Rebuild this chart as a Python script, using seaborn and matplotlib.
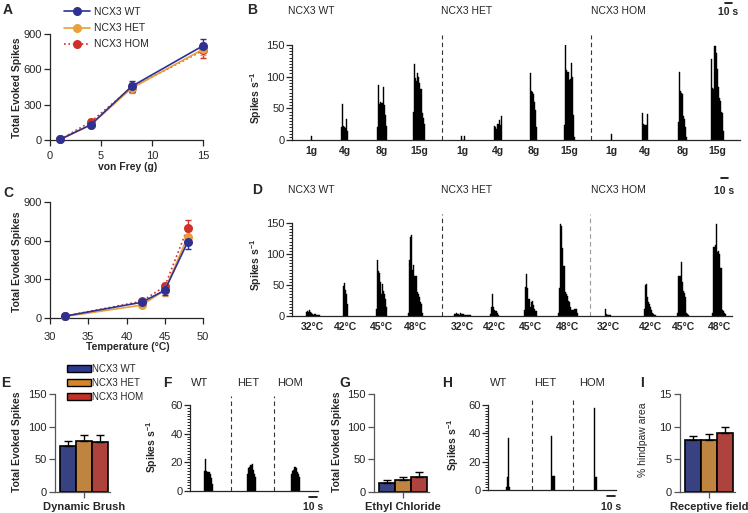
import numpy as np
import pandas as pd
import seaborn as sns
import matplotlib.pyplot as plt
from matplotlib.patches import Patch
from matplotlib.lines import Line2D
from matplotlib.ticker import MultipleLocator

genotypes = ['NCX3 WT', 'NCX3 HET', 'NCX3 HOM']
short_names = ['WT', 'HET', 'HOM']
line_colors = ['#2e3192', '#e8a03a', '#cf3129']
bar_colors = ['#2b3990', '#d4862b', '#c1312a']

# A - von Frey, total evoked spikes (mean, sem)
vf_force = [1, 4, 8, 15]
vf_wt = [5, 130, 455, 800]
vf_het = [5, 128, 440, 770]
vf_hom = [5, 155, 445, 760]
vf_wt_sem = [3, 15, 45, 55]
vf_het_sem = [3, 15, 40, 45]
vf_hom_sem = [3, 20, 35, 60]

# C - heat
heat_temp = [32, 42, 45, 48]
heat_wt = [15, 122, 215, 590]
heat_het = [12, 100, 215, 630]
heat_hom = [15, 130, 245, 700]
heat_wt_sem = [5, 12, 40, 55]
heat_het_sem = [4, 12, 45, 45]
heat_hom_sem = [5, 15, 30, 60]

BIN = 1.5  # s per histogram bin

# B - example traces, von Frey (onset in s, spikes/s per bin)
mech_labels = ['1g', '4g', '8g', '15g'] * 3
mech_onsets = [27, 70, 121, 173, 241, 289, 340, 389, 456, 500, 551, 599]
mech_bursts = [
    [7],
    [20, 57, 22, 21, 19, 33, 14],
    [20, 87, 57, 60, 58, 58, 83, 56, 40, 22],
    [45, 120, 98, 93, 106, 100, 90, 80, 42, 35, 25],
    [7, 0, 0, 6],
    [22, 20, 18, 25, 32, 23, 38],
    [105, 78, 76, 73, 60, 48, 20],
    [23, 151, 110, 108, 95, 97, 122, 100, 40, 5],
    [9],
    [42, 25, 24, 23, 23, 41],
    [28, 108, 77, 75, 73, 38, 33, 20, 5],
    [128, 82, 81, 148, 138, 112, 84, 67, 62, 45, 42, 15],
]
mech_duration = 640
mech_dividers = [214, 427]

# D - example traces, heat
heat_labels = ['32°C', '42°C', '45°C', '48°C'] * 3
heat_onsets = [20, 73, 120, 166, 231, 283, 331, 380, 447, 503, 551, 601]
heat_bursts = [
    [7, 8, 6, 9, 7, 5, 3, 2, 4, 3, 2, 1, 1],
    [48, 53, 42, 35, 20],
    [12, 90, 72, 70, 55, 35, 52, 40, 35, 28, 15],
    [5, 90, 128, 130, 75, 83, 65, 65, 38, 35, 30, 22, 20, 5],
    [3, 4, 5, 4, 3, 2, 5, 4, 3, 3, 2, 2, 1, 1, 1, 1, 1],
    [3, 15, 35, 15, 9, 8, 8, 5, 2],
    [10, 47, 68, 45, 28, 28, 15, 22, 25, 18, 12, 8, 8],
    [5, 45, 148, 145, 110, 80, 80, 38, 35, 32, 25, 22, 15, 10, 10, 12, 12, 12, 5],
    [12, 3, 2, 1, 1, 1],
    [12, 50, 52, 30, 22, 20, 15, 10, 5, 3, 2, 1],
    [5, 65, 65, 87, 55, 40, 37, 30, 5, 3, 2],
    [5, 112, 115, 148, 103, 105, 100, 78, 78, 10, 8, 5, 3],
]
heat_duration = 629
heat_dividers = [214, 426]

# E - dynamic brush
brush_mean = [70, 78, 77]
brush_sem = [8, 10, 10]
# F - brush traces
brush_onsets = [17, 71, 126]
brush_bursts = [
    [14, 22, 14, 13, 13, 12, 9, 5],
    [12, 16, 17, 18, 19, 15, 12, 10],
    [12, 14, 15, 17, 16, 13, 12, 10],
]
brush_duration = 160
brush_dividers = [51, 105]

# G - ethyl chloride
cold_mean = [14, 18, 23]
cold_sem = [4, 5, 7]
# H - cold traces
cold_onsets = [22, 79, 132]
cold_bursts = [[2, 9, 37, 2], [38, 10, 10], [58, 9, 9]]
cold_duration = 160
cold_dividers = [55, 106]

# I - receptive field
rf_mean = [7.9, 7.9, 9.0]
rf_sem = [0.7, 1.0, 1.0]

W, H = 748, 513
sns.set_style('ticks')
plt.rcParams['font.family'] = ['Liberation Sans', 'DejaVu Sans']
plt.rcParams['axes.linewidth'] = 0.9
plt.rcParams['xtick.major.width'] = 0.9
plt.rcParams['ytick.major.width'] = 0.9
plt.rcParams['mathtext.default'] = 'regular'

fig = plt.figure(figsize=(W / 100, H / 100), dpi=100)


def add_ax(x0, y0, x1, y1):
    return fig.add_axes([x0 / W, 1 - y1 / H, (x1 - x0) / W, (y1 - y0) / H])


def ftext(x, y, s, **kw):
    kw.setdefault('ha', 'center')
    kw.setdefault('va', 'center')
    fig.text(x / W, 1 - y / H, s, **kw)


def curve_panel(ax, x, means, sems, xlim, xticks, xpad):
    styles = ['-', '-', ':']
    for i in [2, 1, 0]:
        ax.errorbar(x, means[i], yerr=sems[i], fmt='none', ecolor=line_colors[i],
                    elinewidth=1, capsize=2, capthick=1, clip_on=False, zorder=2)
        sns.lineplot(x=x, y=means[i], color=line_colors[i], linestyle=styles[i], lw=1.2,
                     marker='o', markersize=6.5, markeredgewidth=0, ax=ax, clip_on=False,
                     zorder=3)
    ax.set_xlim(*xlim)
    ax.set_ylim(0, 900)
    ax.set_xticks(xticks)
    ax.set_yticks([0, 300, 600, 900])
    ax.tick_params(labelsize=8, length=4, pad=2)
    ax.tick_params(axis='x', pad=xpad)
    ax.set_xlabel('')
    ax.set_ylabel('')
    sns.despine(ax=ax)


def spike_panel(ax, onsets, bursts, duration, ymax, major, minor, dividers):
    for t0, hs in zip(onsets, bursts):
        t = t0 + BIN * np.arange(len(hs))
        ax.bar(t, hs, width=BIN, align='edge', color='black', edgecolor='black', linewidth=0.3)
    for d in dividers:
        ax.axvline(d, ymin=0, ymax=1.1, ls=(0, (4, 3)), color='#333333', lw=0.8, clip_on=False)
    ax.set_xlim(0, duration)
    ax.set_ylim(0, ymax)
    ax.yaxis.set_major_locator(MultipleLocator(major))
    ax.yaxis.set_minor_locator(MultipleLocator(minor))
    ax.tick_params(axis='y', which='major', length=4, labelsize=8, pad=1)
    ax.tick_params(axis='y', which='minor', length=2.5, width=0.7)
    ax.tick_params(axis='x', length=0)
    sns.despine(ax=ax)


def scale_bar(ax, x0, ybar, ytext):
    tr = ax.get_xaxis_transform()
    ax.plot([x0, x0 + 10], [ybar, ybar], color='black', lw=1.2, transform=tr, clip_on=False)
    ax.text(x0 + 5, ytext, '10 s', transform=tr, ha='center', va='center',
            fontsize=7.5, fontweight='bold')


def bar_panel(ax, means, sems, label, ymax, step):
    df = pd.DataFrame({'cond': [label] * 3, 'genotype': genotypes, 'val': means})
    sns.barplot(data=df, x='cond', y='val', hue='genotype', palette=bar_colors,
                width=0.87, edgecolor='black', linewidth=1.2, errorbar=None,
                legend=False, ax=ax)
    bars = ax.patches[:3]
    xs = [b.get_x() + b.get_width() / 2 for b in bars]
    ax.errorbar(xs, means, yerr=[np.zeros(3), sems], fmt='none', ecolor='black',
                elinewidth=1, capsize=3, capthick=1, zorder=1)
    ax.set_xlim(-0.525, 0.471)
    ax.set_ylim(0, ymax)
    ax.set_yticks(np.arange(0, ymax + step / 2, step))
    ax.tick_params(axis='y', labelsize=8, length=4, pad=2, color='#555555', labelcolor='#222222')
    ax.tick_params(axis='x', length=4, pad=3, color='#555555')
    for lab in ax.get_xticklabels():
        lab.set_fontweight('bold')
        lab.set_fontsize(8)
    for side in ['left', 'bottom']:
        ax.spines[side].set_color('#555555')
    ax.set_xlabel('')
    ax.set_ylabel('')
    sns.despine(ax=ax)


# ---- A ----
axA = add_ax(50, 34, 203, 140)
curve_panel(axA, vf_force, [vf_wt, vf_het, vf_hom], [vf_wt_sem, vf_het_sem, vf_hom_sem],
            (0, 15), [0, 5, 10, 15], 4)
handles = [Line2D([], [], color=line_colors[i], ls=['-', '-', ':'][i], lw=1.2, marker='o',
                  markersize=6.5, markeredgewidth=0) for i in range(3)]
axA.legend(handles, genotypes, loc='upper left', bbox_to_anchor=(64 / W, 1 - 7 / H),
           bbox_transform=fig.transFigure, frameon=False, fontsize=7.5, handlelength=2.5,
           handletextpad=0.4, labelspacing=0.6, borderpad=0, borderaxespad=0)
ftext(128, 167, 'von Frey (g)', fontsize=7.5, fontweight='bold')
ftext(17, 88, 'Total Evoked Spikes', rotation=90, fontsize=7.5, fontweight='bold')

# ---- C ----
axC = add_ax(50, 202, 203, 318)
curve_panel(axC, heat_temp, [heat_wt, heat_het, heat_hom], [heat_wt_sem, heat_het_sem, heat_hom_sem],
            (30, 50), [30, 35, 40, 45, 50], 6)
ftext(128, 347, 'Temperature (°C)', fontsize=7.5, fontweight='bold')
ftext(17, 262, 'Total Evoked Spikes', rotation=90, fontsize=7.5, fontweight='bold')

# ---- B ----
axB = add_ax(292, 45, 740, 140)
spike_panel(axB, mech_onsets, mech_bursts, mech_duration, 150, 50, 5, mech_dividers)
axB.set_xticks([t0 + len(b) * BIN / 2 for t0, b in zip(mech_onsets, mech_bursts)])
axB.set_xticklabels(mech_labels, fontsize=7.5, fontweight='bold')
axB.tick_params(axis='x', pad=4)
scale_bar(axB, 618, 1.44, 1.35)
ftext(256, 98, 'Spikes s$^{-1}$', rotation=90, fontsize=7.5, fontweight='bold')
for x, name in zip([288, 441, 591], genotypes):
    ftext(x, 11, name, ha='left', fontsize=7.5)

# ---- D ----
axD = add_ax(292, 223, 732, 316)
spike_panel(axD, heat_onsets, heat_bursts, heat_duration, 150, 50, 5, heat_dividers)
axD.lines[-1].set_color('#999999')
axD.set_xticks([t0 + len(b) * BIN / 2 for t0, b in zip(heat_onsets, heat_bursts)])
axD.set_xticklabels(heat_labels, fontsize=7.5, fontweight='bold')
axD.tick_params(axis='x', pad=4)
scale_bar(axD, 613, 1.48, 1.34)
ftext(256, 265, 'Spikes s$^{-1}$', rotation=90, fontsize=7.5, fontweight='bold')
for x, name in zip([288, 441, 591], genotypes):
    ftext(x, 190, name, ha='left', fontsize=7.5)

# ---- E ----
axE = add_ax(55, 394, 110, 492)
bar_panel(axE, brush_mean, brush_sem, 'Dynamic Brush', 150, 50)
patches = [Patch(facecolor=c, edgecolor='black', lw=1) for c in bar_colors]
axE.legend(patches, genotypes, loc='upper left', bbox_to_anchor=(67 / W, 1 - 364 / H),
           bbox_transform=fig.transFigure, frameon=False, fontsize=7, handlelength=2.5,
           handleheight=0.8, handletextpad=0.1, labelspacing=0.4, borderpad=0, borderaxespad=0)
ftext(17, 442, 'Total Evoked Spikes', rotation=90, fontsize=7.5, fontweight='bold')

# ---- F ----
axF = add_ax(190, 405, 318, 491)
spike_panel(axF, brush_onsets, brush_bursts, brush_duration, 60, 20, 2, brush_dividers)
axF.set_xticks([])
scale_bar(axF, 149, -0.07, -0.19)
ftext(152, 447, 'Spikes s$^{-1}$', rotation=90, fontsize=7.5, fontweight='bold')
for x, name in zip([200, 248, 290], short_names):
    ftext(x, 383, name, fontsize=8)

# ---- G ----
axG = add_ax(374, 394, 429, 492)
bar_panel(axG, cold_mean, cold_sem, 'Ethyl Chloride', 150, 50)
ftext(337, 442, 'Total Evoked Spikes', rotation=90, fontsize=7.5, fontweight='bold')

# ---- H ----
axH = add_ax(488, 405, 616, 490)
spike_panel(axH, cold_onsets, cold_bursts, cold_duration, 60, 20, 2, cold_dividers)
axH.set_xticks([])
scale_bar(axH, 149, -0.07, -0.2)
ftext(453, 445, 'Spikes s$^{-1}$', rotation=90, fontsize=7.5, fontweight='bold')
for x, name in zip([499, 545, 592], short_names):
    ftext(x, 383, name, fontsize=8)

# ---- I ----
axI = add_ax(680, 394, 735, 492)
bar_panel(axI, rf_mean, rf_sem, 'Receptive field', 15, 5)
ftext(643, 440, '% hindpaw area', rotation=90, fontsize=7.5)

# panel letters
for x, y, s in [(8, 10, 'A'), (252, 10, 'B'), (8, 193, 'C'), (257, 190, 'D'), (6, 383, 'E'),
                (167, 383, 'F'), (345, 383, 'G'), (447, 383, 'H'), (642, 383, 'I')]:
    ftext(x, y, s, fontsize=10, fontweight='bold')

fig.savefig('out.png', dpi=100)
